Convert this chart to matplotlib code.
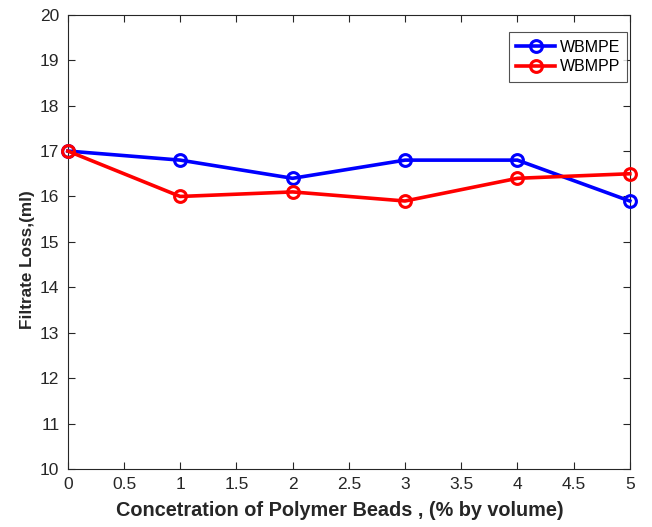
import matplotlib
matplotlib.use("Agg")
import matplotlib.pyplot as plt

# filtrate loss vs bead concentration
conc = [0, 1, 2, 3, 4, 5]
wbmpe = [17.0, 16.8, 16.4, 16.8, 16.8, 15.9]
wbmpp = [17.0, 16.0, 16.1, 15.9, 16.4, 16.5]
xticks = [0, 0.5, 1, 1.5, 2, 2.5, 3, 3.5, 4, 4.5, 5]
xticklabels = ["0", "0.5", "1", "1.5", "2", "2.5", "3", "3.5", "4", "4.5", "5"]
yticks = list(range(10, 21))

plt.rcParams["font.family"] = ["Liberation Sans", "DejaVu Sans"]

fig = plt.figure(figsize=(6.52, 5.27), dpi=100)
ax = fig.add_axes([0.104, 0.110, 0.862, 0.862])

ax.plot(conc, wbmpe, "-o", color="#0000ff", lw=2.6, ms=8.5, mfc="none", mew=2.2,
        label="WBMPE", clip_on=False, zorder=3)
ax.plot(conc, wbmpp, "-o", color="#ff0000", lw=2.6, ms=8.5, mfc="none", mew=2.2,
        label="WBMPP", clip_on=False, zorder=3)

ax.set_xlim(0, 5)
ax.set_ylim(10, 20)
ax.set_xticks(xticks)
ax.set_xticklabels(xticklabels)
ax.set_yticks(yticks)
ax.tick_params(direction="in", length=5, width=0.8, colors="#262626", labelsize=12.5,
               top=True, right=True, pad=6)
for s in ax.spines.values():
    s.set_color("#262626")
    s.set_linewidth(0.8)

ax.set_xlabel("Concetration of Polymer Beads , (% by volume)", fontsize=14.3, fontweight="bold",
              color="#262626")
ax.set_ylabel("Filtrate Loss,(ml)", fontsize=12.3, fontweight="bold", color="#262626")
ax.xaxis.set_label_coords(0.484, -0.071)
ax.yaxis.set_label_coords(-0.059, 0.46)

leg = ax.legend(loc="upper right", bbox_to_anchor=(0.995, 0.961), fontsize=11.5, frameon=True,
                fancybox=False, edgecolor="#262626", borderpad=0.45, handlelength=2.4,
                labelspacing=0.3, handletextpad=0.3, borderaxespad=0.0)
leg.get_frame().set_linewidth(0.8)

fig.savefig("out.png", dpi=100)
